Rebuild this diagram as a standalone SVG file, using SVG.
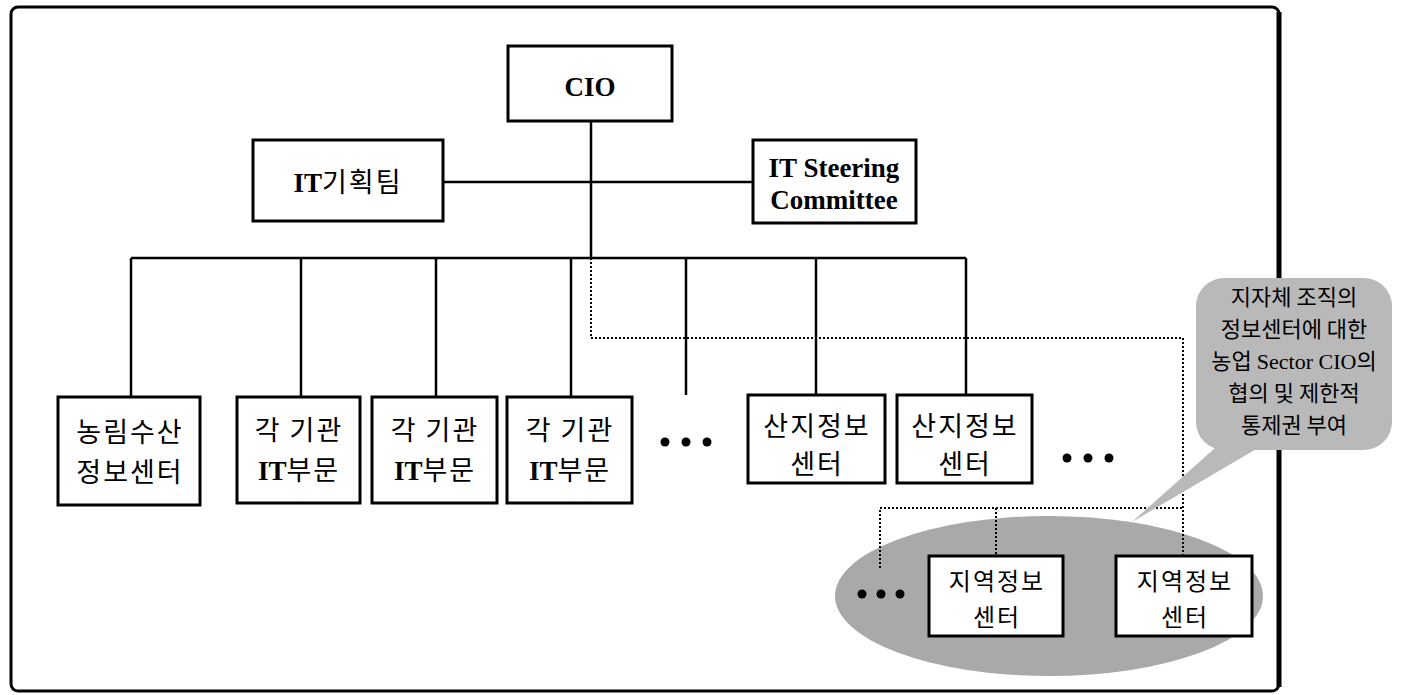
<svg xmlns="http://www.w3.org/2000/svg" width="1425" height="695" viewBox="0 0 1425 695">
<style>
.box{fill:#fff;stroke:#000;stroke-width:3}
.ln{fill:none;stroke:#000;stroke-width:2.5}
.dot{fill:none;stroke:#000;stroke-width:2;stroke-dasharray:2 2}
.kr{font-family:"Noto Sans CJK KR","Noto Sans",sans-serif;font-size:27px;letter-spacing:2px;fill:#000}
.krs{font-family:"Noto Sans CJK KR","Noto Sans",sans-serif;font-size:24px;letter-spacing:2px;fill:#000}
.en{font-family:"Liberation Serif",serif;font-weight:bold;font-size:27px;fill:#000;letter-spacing:0}
.co{font-family:"Noto Sans CJK KR","Noto Sans",sans-serif;font-size:22px;fill:#000}
.coen{font-family:"Liberation Serif",serif;font-size:22px}
</style>
<rect width="1425" height="695" fill="#fff"/>
<g id="frame">
<rect x="11" y="7" width="1268" height="684" rx="7" fill="none" stroke="#000" stroke-width="3"/>
<line x1="1279" y1="12" x2="1279" y2="687" stroke="#000" stroke-width="5"/>
</g>
<g id="group-ellipse">
<ellipse cx="1049" cy="596" rx="214" ry="80" fill="#a9a9a9"/>
</g>
<g id="connectors">
<line class="ln" x1="591" y1="121" x2="591" y2="258"/>
<line class="ln" x1="443" y1="182" x2="753" y2="182"/>
<line class="ln" x1="131" y1="258" x2="966" y2="258"/>
<line class="ln" x1="131" y1="258" x2="131" y2="397"/>
<line class="ln" x1="301" y1="258" x2="301" y2="397"/>
<line class="ln" x1="436" y1="258" x2="436" y2="397"/>
<line class="ln" x1="571" y1="258" x2="571" y2="397"/>
<line class="ln" x1="686" y1="258" x2="686" y2="395"/>
<line class="ln" x1="816" y1="258" x2="816" y2="395"/>
<line class="ln" x1="966" y1="258" x2="966" y2="395"/>
<polyline class="dot" points="591,258 591,338 1183,338 1183,556"/>
<polyline class="dot" points="880,568 880,508 1183,508"/>
<line class="dot" x1="996" y1="508" x2="996" y2="556"/>
</g>
<g id="cio">
<rect class="box" x="508" y="46" width="164" height="75"/>
<text class="en" x="590" y="96" text-anchor="middle">CIO</text>
</g>
<g id="it-planning">
<rect class="box" x="253" y="140" width="190" height="81"/>
<text class="kr" x="348" y="192" text-anchor="middle"><tspan class="en">IT</tspan>기획팀</text>
</g>
<g id="it-steering">
<rect class="box" x="753" y="140" width="163" height="83"/>
<text class="en" x="834" y="177" text-anchor="middle">IT Steering</text>
<text class="en" x="834" y="209" text-anchor="middle">Committee</text>
</g>
<g id="nongrim">
<rect class="box" x="58" y="397" width="142" height="108"/>
<text class="kr" x="130" y="442" text-anchor="middle">농림수산</text>
<text class="kr" x="130" y="482" text-anchor="middle">정보센터</text>
</g>
<g id="agency1">
<rect class="box" x="237" y="397" width="123" height="106"/>
<text class="kr" x="299" y="440" text-anchor="middle">각 기관</text>
<text class="kr" x="299" y="480" text-anchor="middle"><tspan class="en">IT</tspan>부문</text>
</g>
<g id="agency2">
<rect class="box" x="372" y="397" width="125" height="106"/>
<text class="kr" x="435" y="440" text-anchor="middle">각 기관</text>
<text class="kr" x="435" y="480" text-anchor="middle"><tspan class="en">IT</tspan>부문</text>
</g>
<g id="agency3">
<rect class="box" x="507" y="397" width="125" height="106"/>
<text class="kr" x="570" y="440" text-anchor="middle">각 기관</text>
<text class="kr" x="570" y="480" text-anchor="middle"><tspan class="en">IT</tspan>부문</text>
</g>
<g id="dots1" fill="#000">
<circle cx="665" cy="442" r="4.5"/><circle cx="686" cy="442" r="4.5"/><circle cx="707" cy="442" r="4.5"/>
</g>
<g id="sanji1">
<rect class="box" x="748" y="395" width="137" height="88"/>
<text class="kr" x="817" y="436" text-anchor="middle">산지정보</text>
<text class="kr" x="817" y="474" text-anchor="middle">센터</text>
</g>
<g id="sanji2">
<rect class="box" x="897" y="395" width="135" height="88"/>
<text class="kr" x="965" y="436" text-anchor="middle">산지정보</text>
<text class="kr" x="965" y="474" text-anchor="middle">센터</text>
</g>
<g id="dots2" fill="#000">
<circle cx="1067" cy="458" r="4.5"/><circle cx="1088" cy="458" r="4.5"/><circle cx="1109" cy="458" r="4.5"/>
</g>
<g id="region1">
<rect class="box" x="929" y="556" width="134" height="80"/>
<text class="krs" x="997" y="590" text-anchor="middle">지역정보</text>
<text class="krs" x="997" y="626" text-anchor="middle">센터</text>
</g>
<g id="region2">
<rect class="box" x="1116" y="556" width="136" height="80"/>
<text class="krs" x="1185" y="590" text-anchor="middle">지역정보</text>
<text class="krs" x="1185" y="626" text-anchor="middle">센터</text>
</g>
<g id="dots3" fill="#000">
<circle cx="862" cy="594" r="4.5"/><circle cx="881" cy="594" r="4.5"/><circle cx="900" cy="594" r="4.5"/>
</g>
<g id="callout">
<path d="M1215,448 L1258,448 L1132,522 Z" fill="#b9b9b9"/>
<rect x="1196" y="278" width="196" height="172" rx="28" fill="#b9b9b9"/>
<text class="co" x="1294" y="305" text-anchor="middle">지자체 조직의</text>
<text class="co" x="1294" y="337" text-anchor="middle">정보센터에 대한</text>
<text class="co" x="1294" y="369" text-anchor="middle">농업 <tspan class="coen">Sector CIO</tspan>의</text>
<text class="co" x="1294" y="401" text-anchor="middle">협의 및 제한적</text>
<text class="co" x="1294" y="433" text-anchor="middle">통제권 부여</text>
</g>
</svg>
